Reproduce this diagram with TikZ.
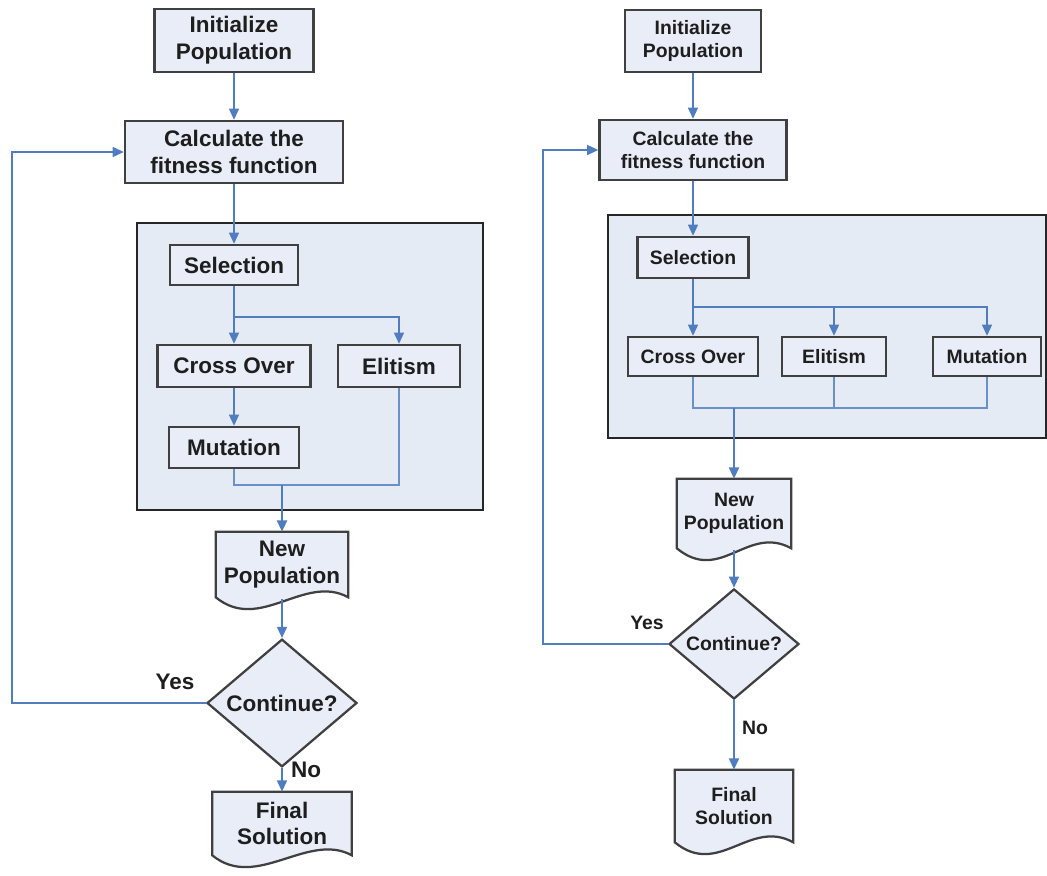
\documentclass[tikz,border=0pt]{standalone}
\usepackage{fontspec}
\setmainfont{Liberation Sans}
\usetikzlibrary{shapes.geometric,arrows.meta,backgrounds}

\definecolor{boxfill}{HTML}{E8EDF7}
\definecolor{panelfill}{HTML}{E5EBF5}
\definecolor{boxline}{HTML}{404040}
\definecolor{flowblue}{HTML}{4F7DC0}
\definecolor{txt}{HTML}{1E1E1E}

\newcommand{\bigtext}{\fontsize{16}{19}\selectfont\bfseries}
\newcommand{\smalltext}{\fontsize{13.8}{16.5}\selectfont\bfseries}

\tikzset{
  box/.style={draw=boxline, line width=1.6pt, fill=boxfill, text=txt, align=center, inner sep=0pt},
  panel/.style={draw=black!85, line width=1.4pt, fill=panelfill, inner sep=0pt},
  decision/.style={box, diamond},
  doc/.style={text=txt, align=center, inner sep=0pt},
  docline/.style={draw=boxline, line width=1.6pt, fill=boxfill},
  flow/.style={draw=flowblue, line width=1.4pt, -{Triangle[width=7pt,length=8pt]}},
  link/.style={draw=flowblue!85, line width=1pt},
  tag/.style={text=txt}
}

\begin{document}
\begin{tikzpicture}
  \useasboundingbox (0,0) rectangle (26.175,21.875);

  % Left chart
  \node[panel, minimum width=8.65cm, minimum height=7.175cm] (panelL) at (7.75,12.7125) {};
  \node[box, font=\bigtext, minimum width=3.975cm, minimum height=1.575cm] (initL) at (5.85,20.8625) {Initialize\\Population};
  \node[box, font=\bigtext, minimum width=5.45cm, minimum height=1.55cm] (calcL) at (5.85,18.075) {Calculate the\\fitness function};
  \node[box, font=\bigtext, minimum width=3.2cm, minimum height=1.0cm] (selL) at (5.85,15.25) {Selection};
  \node[box, font=\bigtext, minimum width=3.825cm, minimum height=1.05cm] (crossL) at (5.85,12.725) {Cross Over};
  \node[box, font=\bigtext, minimum width=3.05cm, minimum height=1.05cm] (eliteL) at (9.975,12.725) {Elitism};
  \node[box, font=\bigtext, minimum width=3.25cm, minimum height=1.025cm] (mutL) at (5.85,10.6875) {Mutation};
  \node[doc, font=\bigtext, minimum width=3.3cm, minimum height=1.625cm] (newpopL) at (7.05,7.7625) {New\\Population};
  \node[decision, font=\bigtext, minimum width=3.75cm, minimum height=2.25cm] (decL) at (7.05,4.3) {Continue?};
  \node[doc, font=\bigtext, minimum width=3.475cm, minimum height=1.575cm] (finalL) at (7.05,1.2875) {Final\\Solution};
  \node[tag, font=\bigtext] (yesL) at (4.375,4.825) {Yes};
  \node[tag, font=\bigtext] (noL) at (7.65,2.625) {No};

  % Right chart
  \node[panel, minimum width=10.95cm, minimum height=5.575cm] (panelR) at (20.675,13.7125) {};
  \node[box, font=\smalltext, minimum width=3.4cm, minimum height=1.55cm] (initR) at (17.325,20.85) {Initialize\\Population};
  \node[box, font=\smalltext, minimum width=4.675cm, minimum height=1.5cm] (calcR) at (17.325,18.125) {Calculate the\\fitness function};
  \node[box, font=\smalltext, minimum width=2.775cm, minimum height=1.025cm] (selR) at (17.325,15.4375) {Selection};
  \node[box, font=\smalltext, minimum width=3.25cm, minimum height=0.975cm] (crossR) at (17.325,12.9625) {Cross Over};
  \node[box, font=\smalltext, minimum width=2.6cm, minimum height=0.975cm] (eliteR) at (20.85,12.9625) {Elitism};
  \node[box, font=\smalltext, minimum width=2.7cm, minimum height=0.975cm] (mutR) at (24.675,12.9625) {Mutation};
  \node[doc, font=\smalltext, minimum width=2.85cm, minimum height=1.725cm] (newpopR) at (18.35,9.0375) {New\\Population};
  \node[decision, font=\smalltext, minimum width=3.25cm, minimum height=2.2cm] (decR) at (18.35,5.775) {Continue?};
  \node[doc, font=\smalltext, minimum width=2.95cm, minimum height=1.8cm] (finalR) at (18.35,1.725) {Final\\Solution};
  \node[tag, font=\smalltext] (yesR) at (16.175,6.3) {Yes};
  \node[tag, font=\smalltext] (noR) at (18.875,3.675) {No};

  % document outlines with wavy bottom
  \begin{scope}[on background layer]
    \foreach \d in {newpopL,finalL,newpopR,finalR}
      \draw[docline] (\d.south west) -- (\d.north west) -- (\d.north east) -- (\d.south east)
        .. controls +(-1.1,0.6) and +(1.1,-0.9) .. (\d.south west) -- cycle;
  \end{scope}

  % turning points
  \coordinate (brL) at (5.85,13.95);
  \coordinate (joinL) at (7.05,9.75);
  \coordinate (loopL) at (0.3,0);
  \coordinate (brR) at (17.325,14.2);
  \coordinate (joinR) at (18.35,11.675);
  \coordinate (loopR) at (13.575,0);

  % left connectors
  \draw[flow] (initL) -- (calcL);
  \draw[flow] (calcL) -- (selL);
  \draw[flow] (selL) -- (crossL);
  \draw[flow] (brL) -| (eliteL.north);
  \draw[flow] (crossL) -- (mutL);
  \draw[link] (mutL.south) |- (joinL) -| (eliteL.south);
  \draw[flow, line width=1.8pt] (joinL) -- (newpopL.north);
  \draw[flow] (newpopL.south) ++(0,-0.05) -- (decL.north);
  \draw[flow] (decL) -- (finalL);
  \draw[flow] (decL.west) -- (decL.west -| loopL) |- (calcL.west);

  % right connectors
  \draw[flow] (initR) -- (calcR);
  \draw[flow] (calcR) -- (selR);
  \draw[flow] (selR) -- (crossR);
  \draw[flow] (brR) -| (eliteR.north);
  \draw[flow] (brR) -| (mutR.north);
  \draw[link] (crossR.south) |- (joinR) -| (mutR.south);
  \draw[link] (eliteR.south) -- (eliteR.south |- joinR);
  \draw[flow, line width=1.8pt] (joinR) -- (newpopR.north);
  \draw[flow] (newpopR.south) ++(0,-0.05) -- (decR.north);
  \draw[flow] (decR) -- (finalR);
  \draw[flow] (decR.west) -- (decR.west -| loopR) |- (calcR.west);
\end{tikzpicture}
\end{document}
